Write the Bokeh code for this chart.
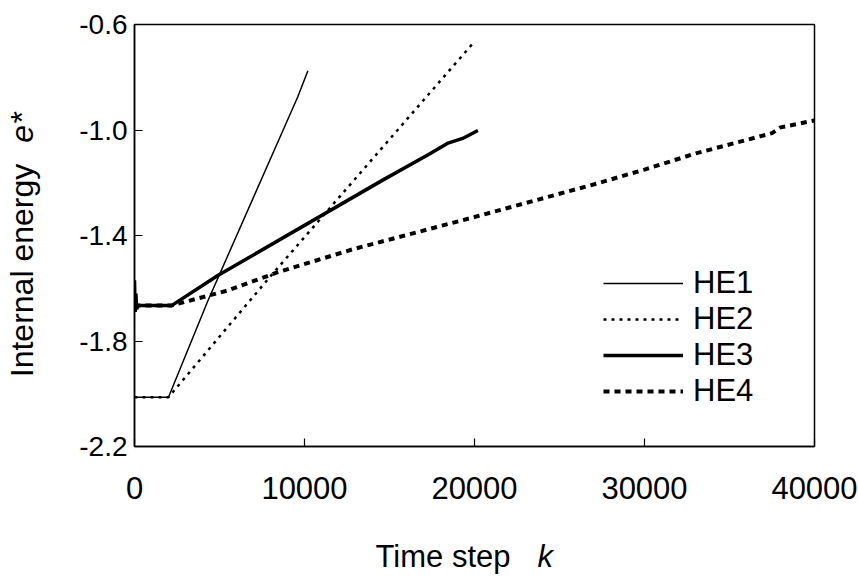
import math
from bokeh.plotting import figure
from bokeh.layouts import row, column
from bokeh.models import (Range1d, FixedTicker, PrintfTickFormatter, NumeralTickFormatter,
                          Legend, LegendItem, Label)
from bokeh.embed import file_html
from bokeh.resources import INLINE

# ---- data ----
he1_k = [0, 2000, 4300, 9600, 10200]
he1_e = [-2.013, -2.013, -1.65, -0.875, -0.775]

he2_k = [0, 2000, 7860, 19900]
he2_e = [-2.013, -2.013, -1.565, -0.672]

he3_k = [0, 40, 80, 130, 200, 2200, 4900, 14600, 17400, 18400, 19300, 20200]
he3_e = [-1.57, -1.69, -1.62, -1.68, -1.665, -1.665, -1.552, -1.19, -1.089, -1.051, -1.032, -1.002]

he4_k = [0, 2200, 5450, 8400, 12850, 20000, 27200, 30000, 33000, 37500, 38000, 40000]
he4_e = [-1.665, -1.665, -1.609, -1.54, -1.452, -1.33, -1.203, -1.15, -1.089, -1.012, -0.99, -0.964]

series_names = ["HE1", "HE2", "HE3", "HE4"]
x_ticks = [0, 10000, 20000, 30000, 40000]
y_ticks = [-2.2, -1.8, -1.4, -1.0, -0.6]

FONT = "Liberation Sans"

def blank(width, height):
    f = figure(width=width, height=height, output_backend="svg", toolbar_location=None,
               x_axis_location=None, y_axis_location=None, min_border=0,
               x_range=Range1d(0, 1), y_range=Range1d(0, 1))
    f.grid.visible = False
    f.outline_line_color = None
    f.background_fill_color = "white"
    f.border_fill_color = "white"
    return f

# ---- main plot ----
p = figure(width=798, height=530, output_backend="svg", toolbar_location=None,
           x_range=Range1d(0, 40000), y_range=Range1d(-2.2, -0.6),
           min_border_left=74, min_border_right=44, min_border_top=24, min_border_bottom=84)
p.background_fill_color = "white"
p.border_fill_color = "white"
p.grid.visible = False
p.outline_line_color = "black"
p.outline_line_width = 1.5

for ax in (p.xaxis[0], p.yaxis[0]):
    ax.axis_line_color = "black"
    ax.axis_line_width = 1.5
    ax.major_tick_in = 8
    ax.major_tick_out = 0
    ax.major_tick_line_color = "black"
    ax.major_tick_line_width = 1.2
    ax.minor_tick_line_color = None
    ax.major_label_text_font = FONT
    ax.major_label_text_color = "black"

p.xaxis.ticker = FixedTicker(ticks=x_ticks)
p.xaxis.formatter = NumeralTickFormatter(format="0")
p.xaxis.major_label_text_font_size = "31px"
p.xaxis.major_label_standoff = 30

p.yaxis.ticker = FixedTicker(ticks=y_ticks)
p.yaxis.formatter = PrintfTickFormatter(format="%.1f")
p.yaxis.major_label_text_font_size = "28px"
p.yaxis.major_label_standoff = 7

r1 = p.line(he1_k, he1_e, line_color="black", line_width=1.5)
r2 = p.line(he2_k, he2_e, line_color="black", line_width=2.5, line_dash="3 5")
r3 = p.line(he3_k, he3_e, line_color="black", line_width=3.5)
r4 = p.line(he4_k, he4_e, line_color="black", line_width=4, line_dash="6 5")

legend = Legend(items=[LegendItem(label=n, renderers=[r]) for n, r in zip(series_names, [r1, r2, r3, r4])],
                location=(469, 37), orientation="vertical",
                background_fill_alpha=0, border_line_color=None,
                padding=0, margin=0, spacing=0,
                glyph_width=80, glyph_height=36, label_standoff=10,
                label_text_font=FONT, label_text_font_size="31px", label_text_color="black")
p.add_layout(legend, "center")

# ---- y-axis title (left strip) ----
left = blank(60, 579)
left.add_layout(Label(x=21.5, y=309, x_units="screen", y_units="screen", text="Internal energy",
                      angle=math.pi / 2, text_align="center", text_baseline="middle",
                      text_font=FONT, text_font_size="32px", text_color="black"))
left.add_layout(Label(x=21.5, y=452, x_units="screen", y_units="screen", text="e*",
                      angle=math.pi / 2, text_align="center", text_baseline="middle",
                      text_font=FONT, text_font_style="italic", text_font_size="32px", text_color="black"))

# ---- x-axis title (bottom strip) ----
bottom = blank(798, 49)
bottom.add_layout(Label(x=376, y=23, x_units="screen", y_units="screen", text="Time step",
                        text_align="right", text_baseline="alphabetic",
                        text_font=FONT, text_font_size="31px", text_color="black"))
bottom.add_layout(Label(x=403, y=23, x_units="screen", y_units="screen", text="k",
                        text_align="left", text_baseline="alphabetic",
                        text_font=FONT, text_font_style="italic", text_font_size="31px", text_color="black"))

layout = row(left, column(p, bottom, spacing=0), spacing=0)

open("out.html", "w").write(file_html(layout, INLINE))
